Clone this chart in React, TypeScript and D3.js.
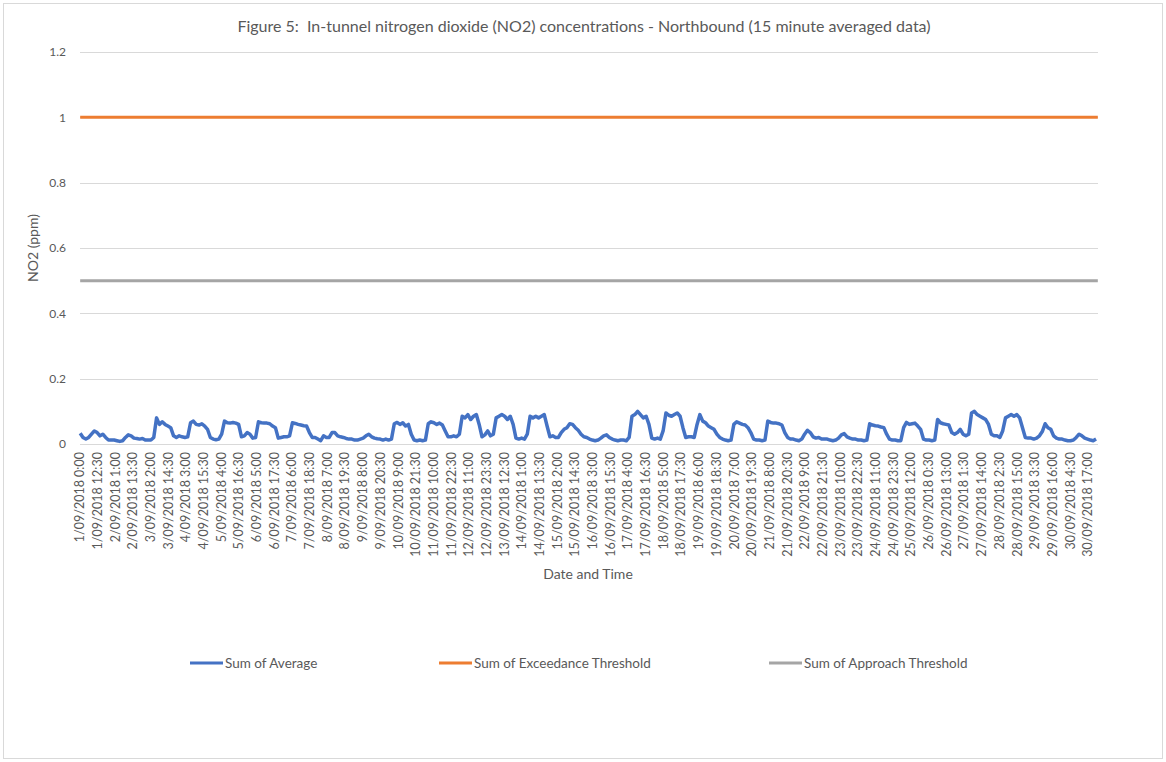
import React, { useRef, useEffect } from "react";
import * as d3 from "d3";

// category labels shown on the x axis (every 50th 15-minute interval)
const tickLabels = [
    "1/09/2018 0:00", "1/09/2018 12:30", "2/09/2018 1:00", "2/09/2018 13:30",
    "3/09/2018 2:00", "3/09/2018 14:30", "4/09/2018 3:00", "4/09/2018 15:30",
    "5/09/2018 4:00", "5/09/2018 16:30", "6/09/2018 5:00", "6/09/2018 17:30",
    "7/09/2018 6:00", "7/09/2018 18:30", "8/09/2018 7:00", "8/09/2018 19:30",
    "9/09/2018 8:00", "9/09/2018 20:30", "10/09/2018 9:00", "10/09/2018 21:30",
    "11/09/2018 10:00", "11/09/2018 22:30", "12/09/2018 11:00", "12/09/2018 23:30",
    "13/09/2018 12:30", "14/09/2018 1:00", "14/09/2018 13:30", "15/09/2018 2:00",
    "15/09/2018 14:30", "16/09/2018 3:00", "16/09/2018 15:30", "17/09/2018 4:00",
    "17/09/2018 16:30", "18/09/2018 5:00", "18/09/2018 17:30", "19/09/2018 6:00",
    "19/09/2018 18:30", "20/09/2018 7:00", "20/09/2018 19:30", "21/09/2018 8:00",
    "21/09/2018 20:30", "22/09/2018 9:00", "22/09/2018 21:30", "23/09/2018 10:00",
    "23/09/2018 22:30", "24/09/2018 11:00", "24/09/2018 23:30", "25/09/2018 12:00",
    "26/09/2018 0:30", "26/09/2018 13:00", "27/09/2018 1:30", "27/09/2018 14:00",
    "28/09/2018 2:30", "28/09/2018 15:00", "29/09/2018 3:30", "29/09/2018 16:00",
    "30/09/2018 4:30", "30/09/2018 17:00",
];
const LABEL_STEP = 50; // intervals between labels
const INTERVAL_COUNT = 2878; // 15 minute records in the month

// NO2 readings (ppm), read every 2 hours (0:00, 2:00 ... 22:00) per day
const READING_STEP = 8; // 15-minute intervals per reading
const no2Readings = [
    0.033, 0.02, 0.015, 0.02, 0.03, 0.04, 0.035, 0.025, 0.03, 0.02, 0.012, 0.012, // 1/09
    0.012, 0.01, 0.008, 0.01, 0.02, 0.028, 0.025, 0.018, 0.017, 0.015, 0.017, 0.012,
    0.012, 0.012, 0.02, 0.08, 0.06, 0.068, 0.06, 0.055, 0.05, 0.025, 0.02, 0.025,
    0.022, 0.02, 0.022, 0.065, 0.07, 0.06, 0.058, 0.062, 0.055, 0.045, 0.02, 0.015,
    0.013, 0.015, 0.03, 0.07, 0.065, 0.064, 0.066, 0.064, 0.06, 0.022, 0.025, 0.035, // 5/09
    0.03, 0.018, 0.02, 0.068, 0.065, 0.064, 0.064, 0.062, 0.055, 0.05, 0.018, 0.02,
    0.022, 0.022, 0.025, 0.065, 0.063, 0.06, 0.058, 0.056, 0.055, 0.035, 0.02, 0.02,
    0.015, 0.01, 0.025, 0.02, 0.02, 0.035, 0.035, 0.025, 0.022, 0.02, 0.017, 0.015,
    0.015, 0.012, 0.012, 0.015, 0.018, 0.025, 0.03, 0.022, 0.018, 0.016, 0.015, 0.012,
    0.015, 0.012, 0.015, 0.062, 0.066, 0.06, 0.065, 0.055, 0.06, 0.03, 0.012, 0.01, // 10/09
    0.012, 0.01, 0.012, 0.062, 0.068, 0.065, 0.06, 0.064, 0.058, 0.04, 0.022, 0.022,
    0.025, 0.022, 0.03, 0.085, 0.08, 0.09, 0.075, 0.085, 0.09, 0.06, 0.022, 0.028,
    0.04, 0.025, 0.03, 0.08, 0.085, 0.09, 0.085, 0.075, 0.085, 0.06, 0.018, 0.015,
    0.018, 0.015, 0.03, 0.085, 0.08, 0.085, 0.08, 0.085, 0.09, 0.055, 0.022, 0.025,
    0.02, 0.02, 0.035, 0.045, 0.05, 0.062, 0.06, 0.05, 0.042, 0.03, 0.022, 0.02, // 15/09
    0.015, 0.012, 0.01, 0.012, 0.018, 0.025, 0.028, 0.02, 0.015, 0.012, 0.01, 0.012,
    0.012, 0.01, 0.02, 0.085, 0.09, 0.1, 0.09, 0.08, 0.085, 0.06, 0.018, 0.015,
    0.018, 0.015, 0.04, 0.095, 0.088, 0.085, 0.09, 0.095, 0.085, 0.05, 0.02, 0.022,
    0.022, 0.02, 0.06, 0.09, 0.07, 0.065, 0.055, 0.05, 0.045, 0.03, 0.02, 0.015,
    0.012, 0.01, 0.012, 0.06, 0.068, 0.064, 0.06, 0.058, 0.05, 0.035, 0.015, 0.012, // 20/09
    0.012, 0.01, 0.012, 0.07, 0.066, 0.064, 0.064, 0.062, 0.058, 0.035, 0.02, 0.015,
    0.015, 0.012, 0.01, 0.015, 0.03, 0.042, 0.035, 0.022, 0.018, 0.02, 0.015, 0.015,
    0.015, 0.012, 0.01, 0.012, 0.018, 0.028, 0.032, 0.022, 0.018, 0.015, 0.015, 0.012,
    0.012, 0.01, 0.012, 0.062, 0.058, 0.056, 0.055, 0.052, 0.05, 0.03, 0.015, 0.012,
    0.012, 0.01, 0.01, 0.05, 0.066, 0.06, 0.062, 0.064, 0.055, 0.045, 0.015, 0.012, // 25/09
    0.012, 0.01, 0.012, 0.075, 0.065, 0.062, 0.06, 0.058, 0.035, 0.03, 0.035, 0.045,
    0.03, 0.025, 0.03, 0.095, 0.1, 0.09, 0.085, 0.08, 0.075, 0.06, 0.03, 0.025,
    0.025, 0.02, 0.04, 0.08, 0.085, 0.09, 0.085, 0.09, 0.08, 0.05, 0.02, 0.018,
    0.018, 0.015, 0.018, 0.025, 0.038, 0.062, 0.05, 0.045, 0.025, 0.018, 0.015, 0.015,
    0.012, 0.01, 0.01, 0.012, 0.02, 0.03, 0.025, 0.018, 0.015, 0.012, 0.01, 0.015, // 30/09
];

const exceedanceThreshold = 1;
const approachThreshold = 0.5;
const yTicks = [0, 0.2, 0.4, 0.6, 0.8, 1, 1.2];

const seriesNames = ["Sum of Average", "Sum of Exceedance Threshold", "Sum of Approach Threshold"];
const seriesColors = ["#4472C4", "#ED7D31", "#A5A5A5"];

const WIDTH = 1166;
const HEIGHT = 762;
const FONT = "Lato, 'Open Sans', sans-serif";
const TEXT = "#595959";

export default function App() {
    const svgRef = useRef<SVGSVGElement | null>(null);

    useEffect(() => {
        if (!svgRef.current) return;
        const margin = { top: 52, right: 68, bottom: 318, left: 80 };

        const svg = d3.select(svgRef.current);
        svg.selectAll("*").remove();

        svg.append("rect")
            .attr("x", 3.5).attr("y", 3.5)
            .attr("width", WIDTH - 7).attr("height", HEIGHT - 7)
            .attr("fill", "#fff").attr("stroke", "#d9d9d9");

        const x = d3
            .scaleLinear()
            .domain([-0.5, INTERVAL_COUNT - 0.5])
            .range([margin.left, WIDTH - margin.right]);

        const y = d3
            .scaleLinear()
            .domain([0, 1.2])
            .range([HEIGHT - margin.bottom, margin.top]);

        // gridlines + y labels
        const yAxis = svg.append("g");
        yTicks.forEach((t) => {
            yAxis.append("line")
                .attr("x1", x.range()[0]).attr("x2", x.range()[1])
                .attr("y1", Math.round(y(t)) + 0.5).attr("y2", Math.round(y(t)) + 0.5)
                .attr("stroke", "#d9d9d9").attr("stroke-width", 1);
            yAxis.append("text")
                .attr("x", 66).attr("y", y(t))
                .attr("dy", "0.35em")
                .attr("text-anchor", "end")
                .attr("font-family", FONT).attr("font-size", 12)
                .attr("fill", TEXT)
                .text(d3.format("~g")(t));
        });

        // x tick labels
        const xAxis = svg.append("g");
        tickLabels.forEach((label, i) => {
            const px = x(i * LABEL_STEP);
            xAxis.append("text")
                .attr("transform", `translate(${px + 4},452) rotate(-90)`)
                .attr("text-anchor", "end")
                .attr("font-family", FONT).attr("font-size", 12.5)
                .attr("fill", TEXT)
                .text(label);
        });

        // threshold lines
        [exceedanceThreshold, approachThreshold].forEach((v, i) => {
            svg.append("line")
                .attr("x1", x(0)).attr("x2", x(INTERVAL_COUNT - 1))
                .attr("y1", y(v)).attr("y2", y(v))
                .attr("stroke", seriesColors[i + 1])
                .attr("stroke-width", 3);
        });

        const lineGen = d3
            .line<number>()
            .x((_, i) => x(i * READING_STEP))
            .y((d) => y(d));

        svg.append("path")
            .datum(no2Readings)
            .attr("fill", "none")
            .attr("stroke", seriesColors[0])
            .attr("stroke-width", 3.5)
            .attr("stroke-linejoin", "round")
            .attr("d", lineGen);

        // titles
        svg.append("text")
            .attr("x", 584).attr("y", 32)
            .attr("text-anchor", "middle")
            .attr("font-family", FONT).attr("font-size", 16)
            .attr("fill", TEXT)
            .attr("xml:space", "preserve")
            .text("Figure 5:  In-tunnel nitrogen dioxide (NO2) concentrations - Northbound (15 minute averaged data)");

        svg.append("text")
            .attr("x", 588).attr("y", 579)
            .attr("text-anchor", "middle")
            .attr("font-family", FONT).attr("font-size", 14)
            .attr("fill", TEXT)
            .text("Date and Time");

        svg.append("text")
            .attr("transform", `translate(38,${(y(0) + y(1.2)) / 2}) rotate(-90)`)
            .attr("text-anchor", "middle")
            .attr("font-family", FONT).attr("font-size", 14)
            .attr("fill", TEXT)
            .text("NO2 (ppm)");

        // legend
        const legendX = [190, 439, 769];
        seriesNames.forEach((name, i) => {
            const g = svg.append("g").attr("transform", `translate(${legendX[i]},663)`);
            g.append("line")
                .attr("x1", 0).attr("x2", 33)
                .attr("stroke", seriesColors[i]).attr("stroke-width", 3);
            g.append("text")
                .attr("x", 35).attr("dy", "0.35em")
                .attr("font-family", FONT).attr("font-size", 13.5)
                .attr("fill", TEXT)
                .text(name);
        });
    }, []);

    return (
        <div style={{ position: "absolute", left: 0, top: 0 }}>
            <svg ref={svgRef} width={WIDTH} height={HEIGHT}></svg>
        </div>
    );
}
